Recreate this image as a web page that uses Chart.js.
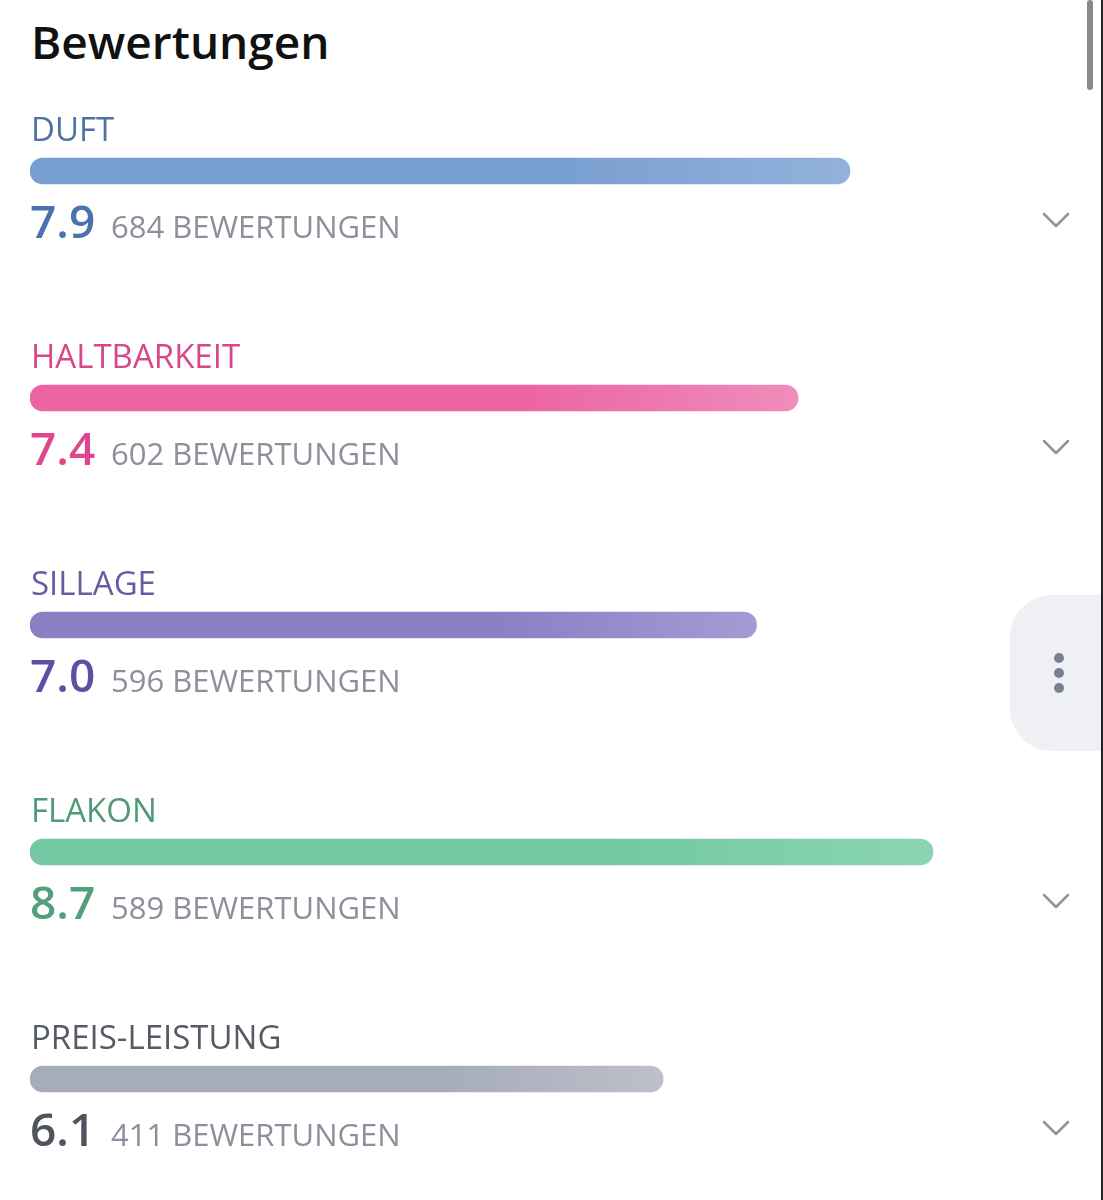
<!DOCTYPE html>
<html lang="de">
<head>
<meta charset="utf-8">
<title>Bewertungen</title>
<script src="https://cdn.jsdelivr.net/npm/chart.js@4"></script>
<style>
  html, body { margin: 0; padding: 0; background: #fff; overflow: hidden; }
  body { width: 1103px; height: 1200px; position: relative; font-family: "Open Sans", sans-serif; }
  h1 {
    position: absolute; left: 31px; top: 10px; margin: 0;
    font-size: 46px; font-weight: 600; color: #111; line-height: 62px;
  }
  #ratings { position: absolute; left: 0; top: 0; }
  .fab {
    position: absolute; left: 1010px; top: 595px; width: 110px; height: 156px;
    background: #eef0f4; border-radius: 42px 0 0 42px;
  }
  .fab span {
    position: absolute; left: 44px; width: 10px; height: 10px; border-radius: 5px; background: #7b8090;
  }
  .scroll { position: absolute; left: 1087px; top: 0; width: 6px; height: 90px; background: #8a8a8a; border-radius: 3px; }
  .edge { position: absolute; left: 1101px; top: 0; width: 2px; height: 1200px; background: #222; }
</style>
</head>
<body>
<h1>Bewertungen</h1>
<canvas id="ratings" width="1103" height="1200"></canvas>
<div class="fab"><span style="top:58px"></span><span style="top:73px"></span><span style="top:88px"></span></div>
<div class="scroll"></div>
<div class="edge"></div>
<script>
const categories = ["DUFT", "HALTBARKEIT", "SILLAGE", "FLAKON", "PREIS-LEISTUNG"];
const scores = [7.9, 7.4, 7.0, 8.7, 6.1];
const voteCounts = [684, 602, 596, 589, 411];
const labelColors = ["#4d72a8", "#d8468b", "#6a5aa6", "#4f9a78", "#555a63"];
const valueColors = ["#4a72ad", "#e0468f", "#5f4fa1", "#52a07b", "#50555d"];
const barStart = ["#799fd0", "#ec65a2", "#8b80c4", "#73c8a3", "#a7acba"];
const barEnd = ["#92b2dc", "#ef8dbb", "#a49bd4", "#8bd5b4", "#bcc0ca"];
const hasChevron = [true, true, false, true, true];

function barFill(context) {
  const i = context.dataIndex;
  const chart = context.chart;
  if (!chart.chartArea || i === undefined) {
    return barStart[i] || barStart[0];
  }
  const xScale = chart.scales.x;
  const x0 = xScale.getPixelForValue(0);
  const x1 = xScale.getPixelForValue(scores[i]);
  const grad = chart.ctx.createLinearGradient(x0, 0, x1, 0);
  grad.addColorStop(0, barStart[i]);
  grad.addColorStop(0.65, barStart[i]);
  grad.addColorStop(1, barEnd[i]);
  return grad;
}

const rowText = {
  id: "rowText",
  afterDatasetsDraw(chart) {
    const ctx = chart.ctx;
    const meta = chart.getDatasetMeta(0);
    const left = chart.chartArea.left;
    ctx.save();
    ctx.textBaseline = "alphabetic";
    meta.data.forEach((bar, i) => {
      const y = bar.y;

      ctx.fillStyle = labelColors[i];
      ctx.font = "400 33px 'Open Sans'";
      ctx.fillText(categories[i], left + 1, y - 30);

      ctx.fillStyle = valueColors[i];
      ctx.font = "600 46px 'Open Sans'";
      ctx.fillText(scores[i].toFixed(1), left, y + 67);

      ctx.fillStyle = "#8c909c";
      ctx.font = "400 31px 'Open Sans'";
      ctx.fillText(`${voteCounts[i]} BEWERTUNGEN`, 111, y + 67);

      if (hasChevron[i]) {
        ctx.strokeStyle = "#8e929c";
        ctx.lineWidth = 2.5;
        ctx.lineCap = "round";
        ctx.lineJoin = "round";
        ctx.beginPath();
        ctx.moveTo(1044, y + 43);
        ctx.lineTo(1056, y + 55);
        ctx.lineTo(1068, y + 43);
        ctx.stroke();
      }
    });
    ctx.restore();
  },
};

new Chart(document.getElementById("ratings"), {
  type: "bar",
  data: {
    labels: categories,
    datasets: [
      {
        data: scores,
        backgroundColor: barFill,
        borderRadius: 13,
        borderSkipped: false,
        barThickness: 26,
      },
    ],
  },
  options: {
    indexAxis: "y",
    responsive: false,
    animation: false,
    devicePixelRatio: 1,
    layout: { padding: { left: 30, right: 35, top: 57.5, bottom: 7.5 } },
    plugins: {
      legend: { display: false },
      tooltip: { enabled: false },
      title: { display: false },
    },
    scales: {
      x: { min: 0, max: 10, display: false },
      y: { display: false },
    },
  },
  plugins: [rowText],
});
</script>
</body>
</html>
